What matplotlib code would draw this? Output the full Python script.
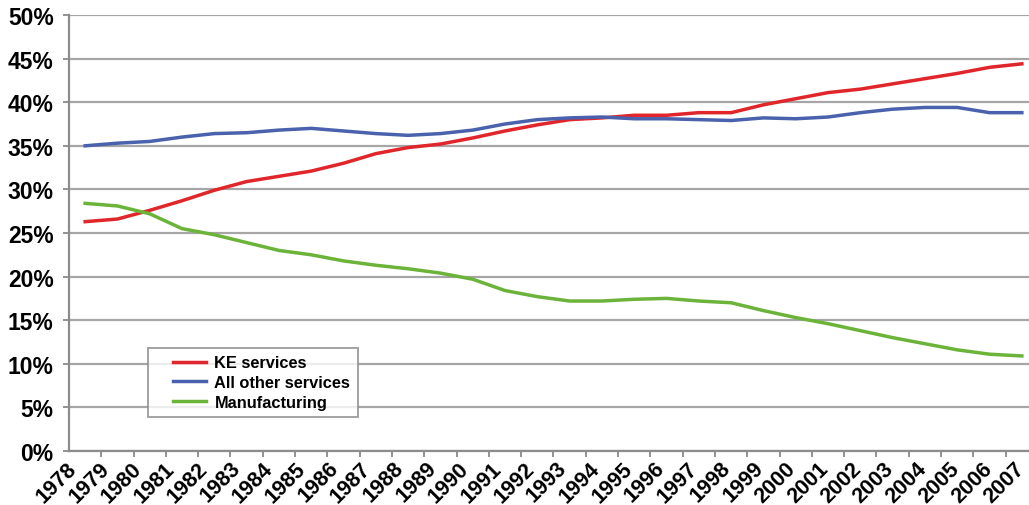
import matplotlib
matplotlib.use("Agg")
import matplotlib.pyplot as plt
from matplotlib.legend_handler import HandlerLine2D
from matplotlib.ticker import FixedLocator, PercentFormatter

years = list(range(1978, 2008))
ke_services = [26.3, 26.6, 27.6, 28.7, 29.9, 30.9, 31.5, 32.1, 33.0, 34.1,
               34.8, 35.2, 35.9, 36.7, 37.4, 38.0, 38.2, 38.5, 38.5, 38.8,
               38.8, 39.7, 40.4, 41.1, 41.5, 42.1, 42.7, 43.3, 44.0, 44.4]
other_services = [35.0, 35.3, 35.5, 36.0, 36.4, 36.5, 36.8, 37.0, 36.7, 36.4,
                  36.2, 36.4, 36.8, 37.5, 38.0, 38.2, 38.3, 38.1, 38.1, 38.0,
                  37.9, 38.2, 38.1, 38.3, 38.8, 39.2, 39.4, 39.4, 38.8, 38.8]
manufacturing = [28.4, 28.1, 27.2, 25.5, 24.8, 23.9, 23.0, 22.5, 21.8, 21.3,
                 20.9, 20.4, 19.7, 18.4, 17.7, 17.2, 17.2, 17.4, 17.5, 17.2,
                 17.0, 16.1, 15.3, 14.6, 13.8, 13.0, 12.3, 11.6, 11.1, 10.9]
y_ticks = [0, 5, 10, 15, 20, 25, 30, 35, 40, 45, 50]

plt.rcParams["font.family"] = ["Liberation Sans", "DejaVu Sans"]

W, H = 1029, 506
fig = plt.figure(figsize=(W / 100, H / 100), dpi=100)
# plot area runs past the right edge (cropped in the original)
ax = fig.add_axes([69 / W, 1 - 452 / H, (1038 - 69) / W, (452 - 16) / H])

grid_c = "#a6a6a6"
ax.plot(years, ke_services, color="#e0262a", lw=2.5, label="KE services", zorder=3)
ax.plot(years, other_services, color="#4a62ad", lw=2.5, label="All other services", zorder=3)
ax.plot(years, manufacturing, color="#6cb33a", lw=2.5, label="Manufacturing", zorder=3)

ax.set_xlim(1977.5, 2007.5)
ax.set_ylim(0, 50)

ax.set_yticks(y_ticks)
ax.yaxis.set_major_formatter(PercentFormatter(decimals=0))
ax.yaxis.grid(True, color=grid_c, lw=1.6)
ax.set_axisbelow(True)

# labels in the original are spaced a touch wider than the data points
label_pos = [y - 0.36 + 0.012 * (y - years[0]) for y in years]
ax.set_xticks(label_pos)
ax.set_xticklabels([str(y) for y in years], rotation=45, ha="right", va="center",
                   rotation_mode="anchor", fontsize=15.5, fontweight="bold")
ax.xaxis.set_minor_locator(FixedLocator([y + 0.5 for y in years]))
ax.tick_params(axis="x", which="major", length=0, pad=10)
ax.tick_params(axis="x", which="minor", length=4, color="#808080", width=1.2)
ax.tick_params(axis="y", length=4, color="#808080", width=1.2, pad=7,
               labelsize=16.5)
for lbl in ax.get_yticklabels():
    lbl.set_fontweight("bold")

for s in ("top", "right"):
    ax.spines[s].set_visible(False)
ax.spines["left"].set_color("#8c8c8c")
ax.spines["left"].set_linewidth(1.6)
ax.spines["bottom"].set_color("#8c8c8c")
ax.spines["bottom"].set_linewidth(1.6)

leg = ax.legend(loc="upper left", bbox_to_anchor=(148 / W, 1 - 349 / H),
                bbox_transform=fig.transFigure, borderaxespad=0,
                prop={"weight": "bold", "size": 11.8}, frameon=True, fancybox=False,
                handlelength=3.1, handletextpad=0.5, borderpad=0.45, labelspacing=0.28,
                handler_map={plt.Line2D: HandlerLine2D(xpad=1.1)})
leg.get_frame().set_edgecolor("#8c8c8c")
leg.get_frame().set_linewidth(1.4)

fig.savefig("out.png", dpi=100)
